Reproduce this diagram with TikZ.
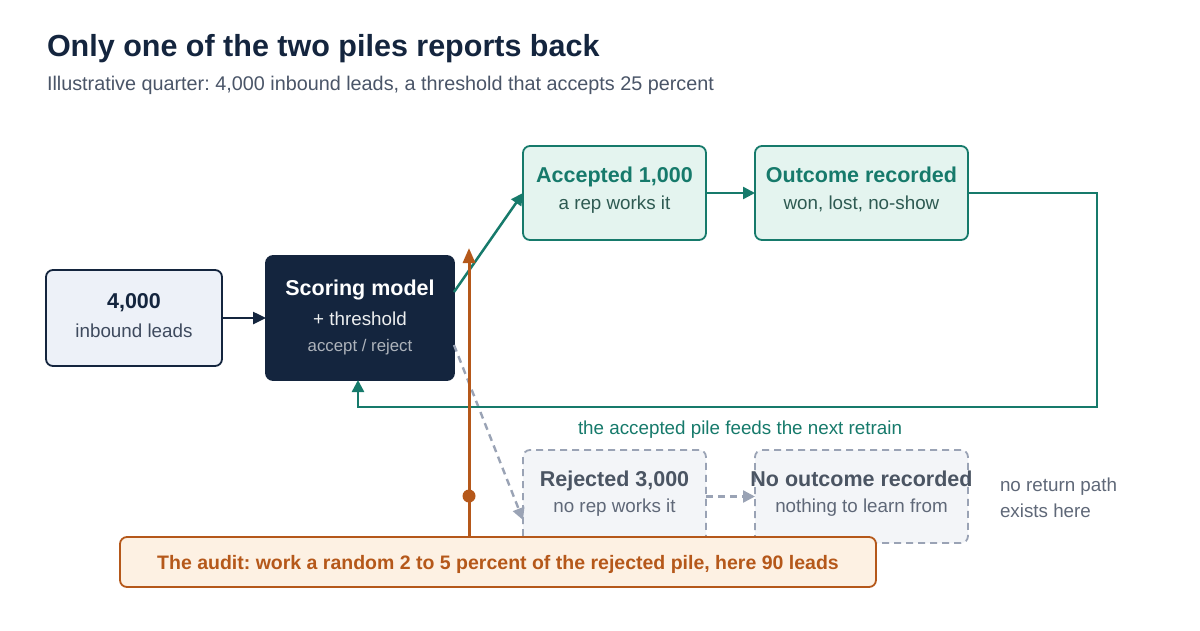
\documentclass[tikz,border=0pt]{standalone}
\usepackage{fontspec}
\setmainfont{Liberation Sans}
\frenchspacing
\usetikzlibrary{arrows.meta}
\definecolor{navy}{HTML}{14253E}
\definecolor{navyfill}{HTML}{EDF1F8}
\definecolor{navysub}{HTML}{3E4A5E}
\definecolor{teal}{HTML}{167A6B}
\definecolor{tealfill}{HTML}{E4F4EF}
\definecolor{tealsub}{HTML}{2E5A52}
\definecolor{gline}{HTML}{9AA3B5}
\definecolor{gfill}{HTML}{F3F5F8}
\definecolor{gtitle}{HTML}{4B5563}
\definecolor{gsub}{HTML}{5F6878}
\definecolor{orng}{HTML}{B5581A}
\definecolor{ofill}{HTML}{FDF1E3}
\definecolor{subt}{HTML}{4A5568}
\tikzset{
  box/.style={rectangle, rounded corners=7pt, line width=1.8pt, outer sep=0pt, inner sep=0pt},
  txt/.style={anchor=base, inner sep=0pt, outer sep=0pt},
  ttl/.style={txt, font=\fontsize{21.5}{24}\selectfont\bfseries},
  sub/.style={txt, font=\fontsize{18.8}{22}\selectfont},
  tarrow/.style={draw=teal, line width=2.5pt, -{Triangle[length=12pt,width=12pt]}},
  garrow/.style={draw=gline, line width=2.4pt, dash pattern=on 7pt off 5pt, -{Triangle[length=12pt,width=12pt]}},
}
\begin{document}
\begin{tikzpicture}[x=1pt,y=-1pt]
\useasboundingbox[fill=white] (0,0) rectangle (1200,630);

% title
\node[txt, anchor=base west, font=\fontsize{30.5}{34}\selectfont\bfseries, text=navy] (title) at (47,56) {Only one of the two piles reports back};
\node[txt, anchor=base west, font=\fontsize{19.8}{23}\selectfont, text=subt] (subtitle) at (47,90) {Illustrative quarter: 4,000 inbound leads, a threshold that accepts 25 percent};

% boxes
\node[box, draw=navy, fill=navyfill, minimum width=176pt, minimum height=96pt] (inb) at (134,318) {};
\node[box, draw=navy, fill=navy, minimum width=188pt, minimum height=124pt] (scm) at (360,318) {};
\node[box, draw=teal, fill=tealfill, minimum width=183pt, minimum height=94pt] (acc) at (614.5,193) {};
\node[box, draw=teal, fill=tealfill, minimum width=213pt, minimum height=94pt] (out) at (861.5,193) {};
\node[box, draw=gline, fill=gfill, dash pattern=on 7pt off 5pt, minimum width=183pt, minimum height=93pt] (rej) at (614.5,496.5) {};
\node[box, draw=gline, fill=gfill, dash pattern=on 7pt off 5pt, minimum width=213pt, minimum height=93pt] (noo) at (861.5,496.5) {};

% box texts
\node[ttl, text=navy] (inbt) at (134,308) {4,000};
\node[sub, text=navysub] (inbs) at (134,337) {inbound leads};
\node[ttl, text=white] (scmt) at (360,295) {Scoring model};
\node[sub, text=white!92!navy] (scms) at (360,325) {+ threshold};
\node[txt, font=\fontsize{16.8}{20}\selectfont, text=white!65!navy] (scmr) at (360,351) {accept / reject};
\node[ttl, text=teal] (acct) at (614.5,182) {Accepted 1,000};
\node[sub, text=tealsub] (accs) at (614.5,209) {a rep works it};
\node[ttl, text=teal] (outt) at (861.5,182) {Outcome recorded};
\node[sub, text=tealsub] (outs) at (861.5,209) {won, lost, no-show};
\node[ttl, text=gtitle] (rejt) at (614.5,486) {Rejected 3,000};
\node[sub, text=gsub] (rejs) at (614.5,512) {no rep works it};
\node[ttl, text=gtitle] (noot) at (861.5,486) {No outcome recorded};
\node[sub, text=gsub] (noos) at (861.5,512) {nothing to learn from};
\node[sub, anchor=base west, text=gsub] (nret1) at (1000,491) {no return path};
\node[sub, anchor=base west, text=gsub] (nret2) at (1000,517) {exists here};

% connectors
\draw[draw=navy, line width=2.5pt, -{Triangle[length=13pt,width=12pt]}] (inb.east) -- (scm.west);
\draw[garrow] ([yshift=-27pt]scm.east) -- ([yshift=-23.5pt]rej.west);
\draw[garrow] (rej.east) -- (noo.west);
\draw[tarrow] ([yshift=26pt]scm.east) -- (acc.west);
\draw[tarrow] (acc.east) -- (out.west);
\coordinate (fb1) at (1097,193);
\coordinate (fb2) at (1097,407);
\coordinate (fb3) at (358,407);
\draw[tarrow] (out.east) -- (fb1) -- (fb2) -- (fb3) -- (fb3 |- scm.south);
\node[txt, font=\fontsize{18.8}{22}\selectfont, text=teal] (fbl) at (740,434) {the accepted pile feeds the next retrain};

% audit
\node[box, draw=orng, fill=ofill, minimum width=756pt, minimum height=50pt] (aud) at (498,562) {};
\node[txt, font=\fontsize{19.5}{22}\selectfont\bfseries, text=orng] (audt) at (498,569) {The audit: work a random 2 to 5 percent of the rejected pile, here 90 leads};
\coordinate (atop) at (469,248);
\draw[draw=orng, line width=3pt, -{Triangle[length=15pt,width=12pt]}] (aud.north -| atop) -- (atop);
\fill[orng] (469,496) circle (6.5pt);
\end{tikzpicture}
\end{document}
